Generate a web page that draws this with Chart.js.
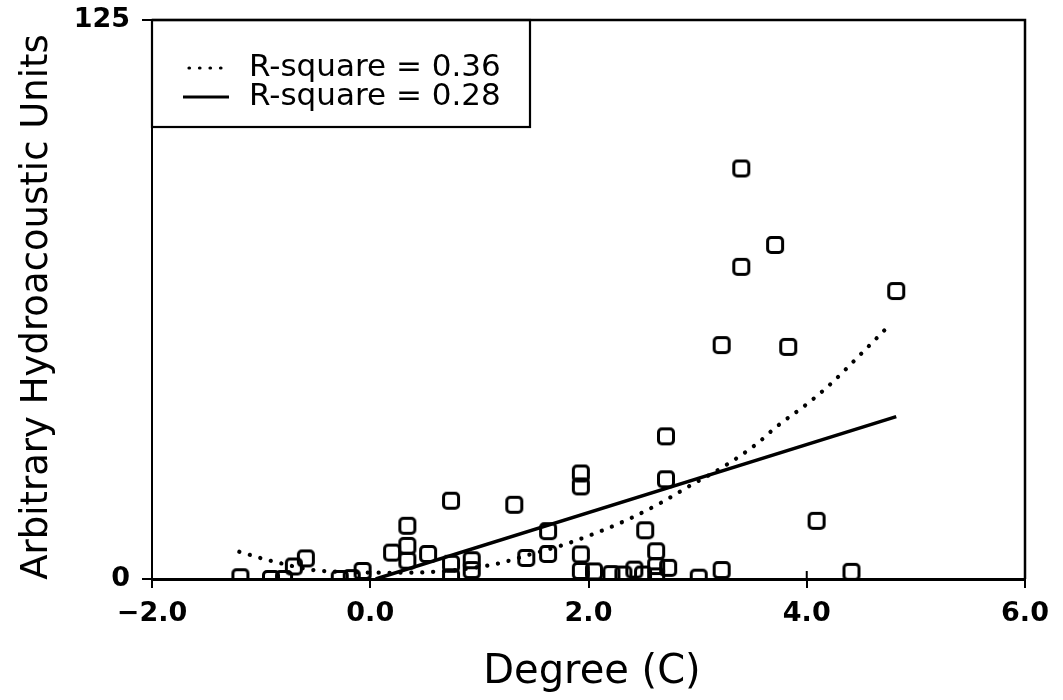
<!DOCTYPE html>
<html><head><meta charset="utf-8">
<script src="https://cdn.jsdelivr.net/npm/chart.js@4.4.1/dist/chart.umd.min.js"></script>
<style>html,body{margin:0;padding:0;background:#fff;}#wrap{width:1063px;height:700px;}</style>
</head><body><div id="wrap"><canvas id="c" width="1063" height="700"></canvas></div>
<script>
// ---- data ----
const tempX = [-1.19,-0.91,-0.79,-0.70,-0.59,-0.28,-0.17,-0.07,0.20,0.34,0.34,0.34,0.53,0.74,0.74,0.74,0.93,0.93,1.32,1.43,1.63,1.63,1.93,1.93,1.93,1.93,2.05,2.21,2.32,2.42,2.50,2.52,2.62,2.62,2.62,2.71,2.71,2.73,3.01,3.22,3.22,3.40,3.40,3.71,3.83,4.09,4.41,4.82];
const hydroY = [0.4,0,0,2.8,4.6,0,0.2,1.8,5.9,11.9,7.4,4.1,5.6,17.5,3.4,0.4,4.2,2.0,16.6,4.7,10.7,5.6,23.6,20.7,5.5,1.8,1.7,1.1,1.0,2.1,1.0,10.9,6.2,2.9,0.6,31.9,22.3,2.5,0.3,2.0,52.3,91.8,69.8,74.7,51.9,13.0,1.6,64.4];
const curveX = [-1.2,-0.9,-0.44,0.33,1.12,1.48,1.79,2.09,2.37,2.66,2.94,3.25,3.54,3.72,4.00,4.20,4.48,4.76];
const curveY = [6.1,4.0,1.8,1.4,3.2,5.6,7.8,10.5,13.4,17.0,21.0,25.3,30.2,34.0,39.1,43.2,49.9,56.8];
const lineX = [0.05,4.82];
const lineY = [0,36.3];
const seriesLabels = ['Observations','R-square = 0.36','R-square = 0.28'];
const xTickValues = [-2,0,2,4,6];
const xTickLabels = ['\u22122.0','0.0','2.0','4.0','6.0'];
const yTickValues = [0,125];
const yTickLabels = ['0','125'];
const xTitle = 'Degree (C)';
const yTitle = 'Arbitrary Hydroacoustic Units';

// open rounded-square marker
const marker = document.createElement('canvas');
marker.width = 20; marker.height = 20;
(function(){
  const m = marker.getContext('2d');
  m.lineWidth = 3; m.strokeStyle = '#000';
  m.beginPath();
  m.roundRect(2.5, 2.5, 15, 15, 3.5);
  m.stroke();
})();

const zip = (xs, ys) => xs.map((x, i) => ({x: x, y: ys[i]}));

const frame = {
  id: 'frame',
  afterDraw(chart) {
    const ctx = chart.ctx, a = chart.chartArea, xs = chart.scales.x;
    ctx.save();
    ctx.strokeStyle = '#000';
    ctx.lineWidth = 2.5;
    ctx.beginPath();
    ctx.moveTo(a.left, a.top); ctx.lineTo(a.right, a.top); ctx.lineTo(a.right, a.bottom);
    ctx.stroke();
    // inner part of crossing x ticks
    ctx.lineWidth = 2;
    xTickValues.forEach(v => {
      const px = xs.getPixelForValue(v);
      ctx.beginPath(); ctx.moveTo(px, a.bottom); ctx.lineTo(px, a.bottom - 8); ctx.stroke();
    });
    // legend box
    const lx = a.left, ly = a.top, lw = 378, lh = 107;
    ctx.lineWidth = 2.2;
    ctx.strokeRect(lx, ly, lw, lh);
    ctx.fillStyle = '#000';
    ctx.font = '31px "DejaVu Sans"';
    ctx.textBaseline = 'middle';
    ctx.textAlign = 'left';
    const rows = [ly + 48, ly + 77];
    // dotted sample
    ctx.lineWidth = 3.2; ctx.lineCap = 'round';
    ctx.setLineDash([0.5, 10]);
    ctx.beginPath(); ctx.moveTo(lx + 37, rows[0]); ctx.lineTo(lx + 76, rows[0]); ctx.stroke();
    ctx.setLineDash([]);
    ctx.lineCap = 'butt';
    ctx.beginPath(); ctx.moveTo(lx + 31, rows[1]); ctx.lineTo(lx + 77, rows[1]); ctx.stroke();
    ctx.fillText(chart.data.datasets[1].label, lx + 97, rows[0]);
    ctx.fillText(chart.data.datasets[2].label, lx + 97, rows[1]);
    // axis titles
    ctx.font = '40px "DejaVu Sans"';
    ctx.textAlign = 'center';
    ctx.textBaseline = 'alphabetic';
    ctx.fillText(xTitle, 592, 683);
    ctx.save();
    ctx.translate(47, 307);
    ctx.rotate(-Math.PI / 2);
    ctx.font = '37px "DejaVu Sans"';
    ctx.fillText(yTitle, 0, 0);
    ctx.restore();
    ctx.restore();
  }
};

const tickFont = {family: 'DejaVu Sans', size: 27, weight: 'bold'};

new Chart(document.getElementById('c'), {
  type: 'scatter',
  data: {
    datasets: [
      {label: seriesLabels[0], data: zip(tempX, hydroY), pointStyle: marker, pointRadius: 9, showLine: false, order: 0},
      {label: seriesLabels[1], type: 'line', data: zip(curveX, curveY), borderColor: '#000', borderWidth: 4.2,
       borderDash: [0.1, 10.8], borderCapStyle: 'round', pointRadius: 0, cubicInterpolationMode: 'monotone', fill: false, order: 1},
      {label: seriesLabels[2], type: 'line', data: zip(lineX, lineY), borderColor: '#000', borderWidth: 3.5,
       pointRadius: 0, fill: false, order: 1}
    ]
  },
  options: {
    responsive: false,
    animation: false,
    devicePixelRatio: 1,
    layout: {padding: {top: 20, right: 38, bottom: 0, left: 0}},
    plugins: {legend: {display: false}, tooltip: {enabled: false}, title: {display: false}},
    scales: {
      x: {
        type: 'linear', min: -2, max: 6,
        afterBuildTicks: s => { s.ticks = xTickValues.map(v => ({value: v})); },
        afterFit: s => { s.height = 700 - 579; s.paddingLeft = 0; s.paddingRight = 0; },
        ticks: {callback: v => xTickLabels[xTickValues.indexOf(v)], font: tickFont, color: '#000', padding: 10, maxRotation: 0, autoSkip: false},
        grid: {drawOnChartArea: false, drawTicks: true, tickLength: 9, color: '#000', lineWidth: 2},
        border: {display: true, color: '#000', width: 3}
      },
      y: {
        type: 'linear', min: 0, max: 125,
        afterBuildTicks: s => { s.ticks = yTickValues.map(v => ({value: v})); },
        afterFit: s => { s.width = 152; s.paddingTop = 0; s.paddingBottom = 0; },
        ticks: {callback: v => yTickLabels[yTickValues.indexOf(v)], font: tickFont, color: '#000', padding: 12, autoSkip: false},
        grid: {drawOnChartArea: false, drawTicks: true, tickLength: 10, color: '#000', lineWidth: 2},
        border: {display: true, color: '#000', width: 2}
      }
    }
  },
  plugins: [frame]
});
</script>
</body></html>
